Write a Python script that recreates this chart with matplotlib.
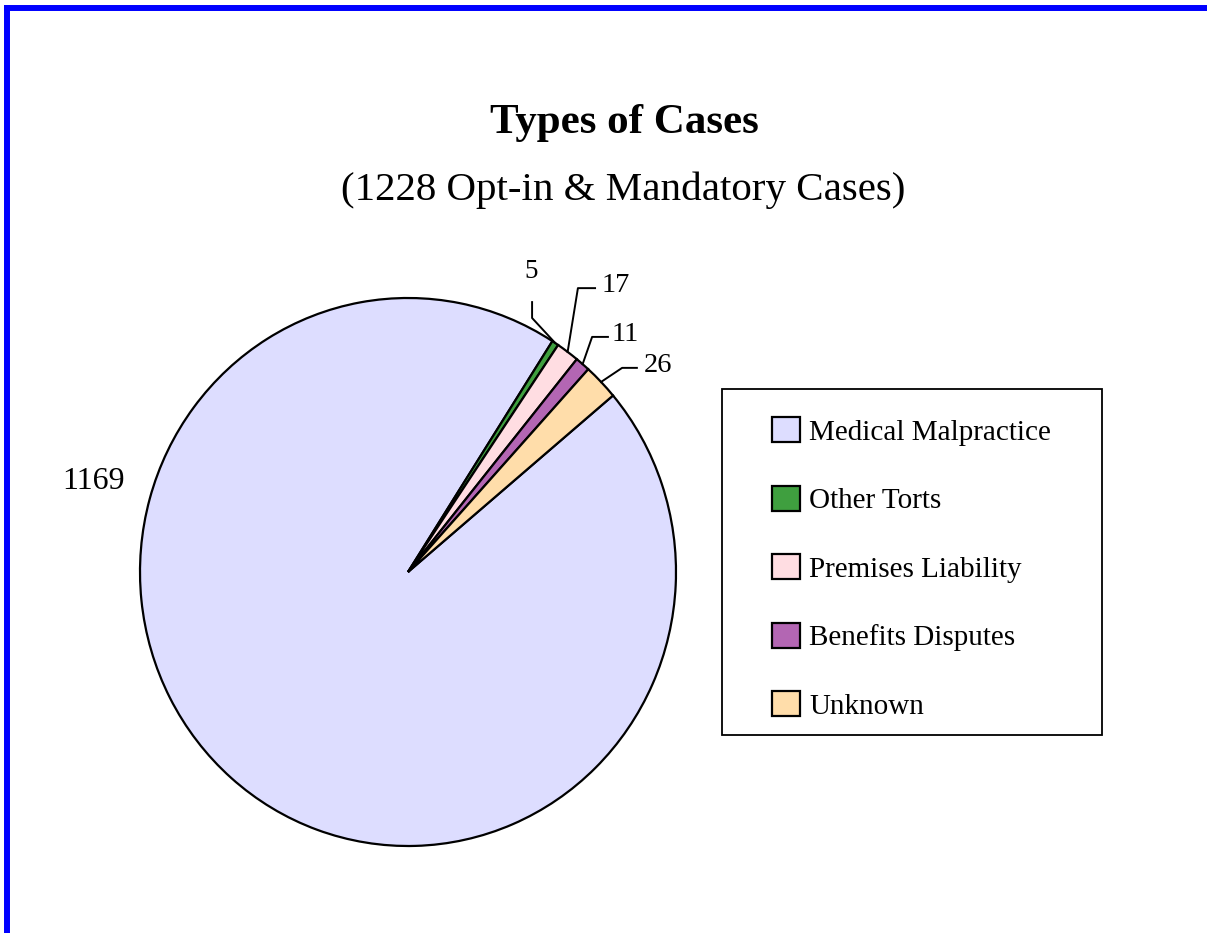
import numpy as np
import matplotlib
matplotlib.use("Agg")
import matplotlib.pyplot as plt
from matplotlib.patches import Rectangle
from matplotlib.lines import Line2D

# ---- data ----
categories = ["Medical Malpractice", "Other Torts", "Premises Liability",
              "Benefits Disputes", "Unknown"]
counts = [1169, 5, 17, 11, 26]
colors = ["#DDDDFF", "#3F9F3F", "#FFDDE2", "#B366B3", "#FFDDAA"]
title = "Types of Cases"
subtitle = "(1228 Opt-in & Mandatory Cases)"

W, H = 1207, 933
fig = plt.figure(figsize=(W / 100, H / 100), dpi=100)
fig.patch.set_facecolor("white")
serif = "Liberation Serif"

# blue frame on top and left
fig.add_artist(Line2D([4 / W, 1.0], [1 - 8 / H, 1 - 8 / H], color="#0000FF", lw=4.3,
                      transform=fig.transFigure, solid_capstyle="butt"))
fig.add_artist(Line2D([7 / W, 7 / W], [0.0, 1 - 5 / H], color="#0000FF", lw=4.3,
                      transform=fig.transFigure, solid_capstyle="butt"))

# titles
fig.text(624 / W, 1 - 133 / H, title, ha="center", va="baseline",
         fontsize=31, fontweight="bold", family=serif)
fig.text(623 / W, 1 - 200 / H, subtitle, ha="center", va="baseline",
         fontsize=29.5, family=serif)

# pie axes (pixel box 140..676 x 298..846)
ax = fig.add_axes([140 / W, (H - 846) / H, 536 / W, 548 / H])
total = sum(counts)
start = 57.4 + counts[0] / total * 360.0
wedges, _ = ax.pie(counts, colors=colors, startangle=start, counterclock=False,
                   wedgeprops=dict(edgecolor="black", linewidth=1.6))
ax.set_aspect("auto")
ax.set_xlim(-1, 1)
ax.set_ylim(-1, 1)
ax.axis("off")

# labels with leader lines
def mid_point(w):
    ang = np.deg2rad((w.theta1 + w.theta2) / 2)
    return np.cos(ang), np.sin(ang)

# "5": vertical elbow
mx, my = mid_point(wedges[1])
ax.plot([0.463, 0.463, mx], [0.985, 0.927, my], color="black", lw=1.4, clip_on=False)
ax.text(0.459, 1.095, str(counts[1]), ha="center", va="center", fontsize=19.5, family=serif)

label_pos = {2: (0.724, 1.036, 0.698, 0.634),
             3: (0.761, 0.858, 0.746, 0.687),
             4: (0.881, 0.745, 0.854, 0.799)}
for i, (tx, ty, x0, x1) in label_pos.items():
    mx, my = mid_point(wedges[i])
    ax.plot([x0, x1, mx], [ty, ty, my], color="black", lw=1.4, clip_on=False)
    ax.text(tx, ty + 0.01, str(counts[i]), ha="left", va="center", fontsize=20.5, family=serif)

ax.text(-1.175, 0.332, str(counts[0]), ha="center", va="center", fontsize=23, family=serif)

# legend
fig.add_artist(Rectangle((722 / W, (H - 735) / H), 380 / W, 346 / H, transform=fig.transFigure,
                         facecolor="white", edgecolor="black", lw=1.3))
leg = fig.legend(wedges, categories, loc="upper left",
                 bbox_to_anchor=(772 / W, 1 - 417 / H), frameon=False,
                 borderpad=0, borderaxespad=0,
                 prop=dict(family=serif, size=21),
                 handlelength=0.95, handleheight=0.95, handletextpad=0.33,
                 labelspacing=1.37)
for h in leg.legend_handles:
    h.set_linewidth(1.6)
    h.set_edgecolor("black")

fig.savefig("out.png", dpi=100, facecolor="white")
